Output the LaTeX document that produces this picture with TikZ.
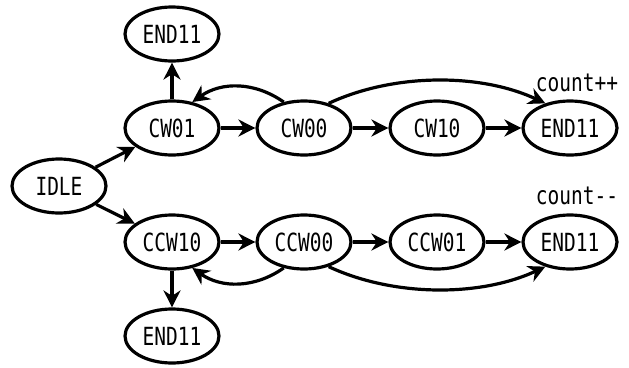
\documentclass[tikz,border=0pt]{standalone}
\usepackage{fontspec}
\newfontfamily\gfont[FakeStretch=0.78]{DejaVu Sans Mono}
\usetikzlibrary{arrows.meta,shapes.geometric}
\begin{document}
\begin{tikzpicture}[x=1pt,y=-1pt,
  st/.style={ellipse,draw,line width=3.2pt,minimum width=94pt,minimum height=54pt,inner sep=0pt,
    font=\gfont\fontsize{25}{29}\selectfont},
  lab/.style={font=\gfont\fontsize{25}{29}\selectfont,inner sep=0pt},
  tr/.style={line width=3.2pt,-{Stealth[length=17pt,width=17pt,inset=5.5pt]}}]
\useasboundingbox (0,0) rectangle (629,367);
\node[st] (idle) at (59,186) {IDLE};
\node[st] (cw01) at (172,128) {CW01};
\node[st] (endu) at (172,34) {END11};
\node[st] (cw00) at (304,128) {CW00};
\node[st] (cw10) at (437,128) {CW10};
\node[st] (endr1) at (570,128) {END11};
\node[st] (ccw10) at (172,242) {CCW10};
\node[st] (endd) at (172,336) {END11};
\node[st] (ccw00) at (304,242) {CCW00};
\node[st] (ccw01) at (437,242) {CCW01};
\node[st] (endr2) at (570,242) {END11};
\node[lab,anchor=base] (cpp) at (577,91) {count++};
\node[lab,anchor=base] (cmm) at (577,204) {count-{}-};
\draw[tr] (idle) -- (cw01);
\draw[tr] (idle) -- (ccw10);
\draw[tr] (cw01) -- (endu);
\draw[tr] (cw01) -- (cw00);
\draw[tr] (cw00) -- (cw10);
\draw[tr] (cw10) -- (endr1);
\draw[tr] (cw00.128) to[out=145,in=35] (cw01.52);
\draw[tr] (cw00.45) to[out=25,in=155,looseness=0.85] (endr1.135);
\draw[tr] (ccw10) -- (endd);
\draw[tr] (ccw10) -- (ccw00);
\draw[tr] (ccw00) -- (ccw01);
\draw[tr] (ccw01) -- (endr2);
\draw[tr] (ccw00.-128) to[out=-145,in=-35] (ccw10.-52);
\draw[tr] (ccw00.-45) to[out=-25,in=-155,looseness=0.85] (endr2.-135);
\end{tikzpicture}
\end{document}
